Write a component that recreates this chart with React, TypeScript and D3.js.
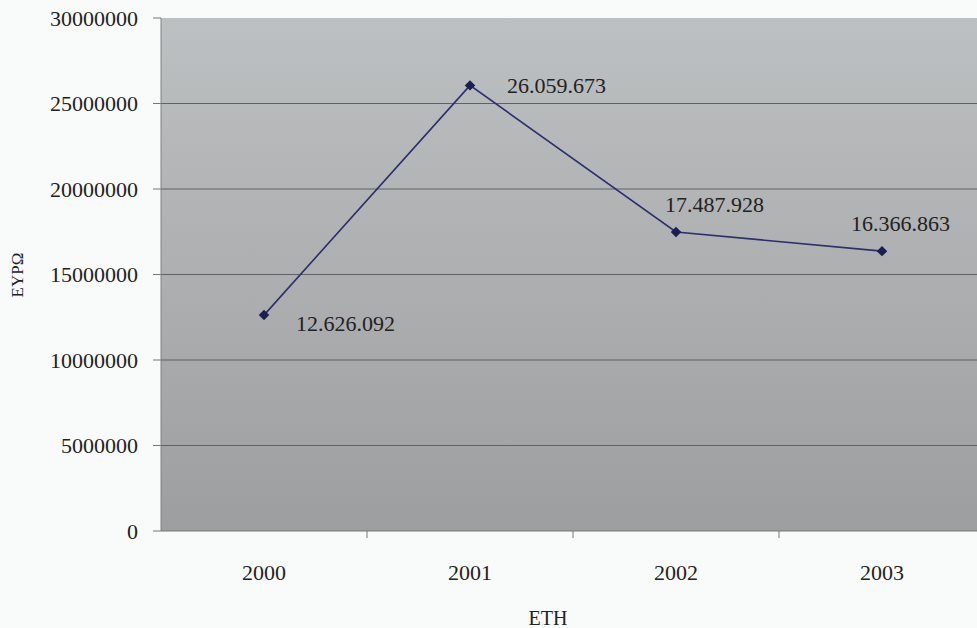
import React from "react";
import * as d3 from "d3";

const years = ["2000", "2001", "2002", "2003"];
const values = [12626092, 26059673, 17487928, 16366863];
const valueLabels = ["12.626.092", "26.059.673", "17.487.928", "16.366.863"];
const yTicks = [0, 5000000, 10000000, 15000000, 20000000, 25000000, 30000000];
const yTitle = "ΕΥΡΩ";
const xTitle = "ETH";

const W = 977;
const H = 628;
const left = 161;
const top = 18;
const bottom = 531;
const band = 206;

export default function App() {
  const x = d3.scaleBand<string>().domain(years).range([left, left + band * years.length]).padding(0);
  const y = d3.scaleLinear().domain([0, 30000000]).range([bottom, top]);
  const cx = (d: string) => (x(d) as number) + x.bandwidth() / 2;
  const line = d3.line<number>().x((_, i) => cx(years[i])).y((v) => y(v));
  const font = '"Liberation Serif", "Times New Roman", Times, "DejaVu Serif", serif';
  const labelOffsets = [
    { dx: 32, dy: 8, anchor: "start" },
    { dx: 37, dy: 0, anchor: "start" },
    { dx: -11, dy: -28, anchor: "start" },
    { dx: -31, dy: -28, anchor: "start" },
  ];
  const diamond = d3.symbol().type(d3.symbolSquare).size(55)() as string;
  return (
    <svg width={W} height={H} style={{ position: "absolute", left: 0, top: 0, display: "block", fontFamily: font }}>
      <defs>
        <linearGradient id="bg" x1="0" y1="0" x2="0" y2="1">
          <stop offset="0" stopColor="#bdc0c2" />
          <stop offset="1" stopColor="#9d9e9f" />
        </linearGradient>
      </defs>
      <rect x={0} y={0} width={W} height={H} fill="#f9fbfb" />
      <rect x={left} y={top} width={W - left} height={bottom - top} fill="url(#bg)" />
      {yTicks.map((t) => (
        <g key={t}>
          {t > 0 && t < 30000000 && (
            <line x1={left} x2={W} y1={y(t)} y2={y(t)} stroke="#5f6264" strokeWidth={1} />
          )}
          <line x1={left - 8} x2={left} y1={y(t)} y2={y(t)} stroke="#777" strokeWidth={1} />
          <text x={138} y={y(t)} dy="0.35em" textAnchor="end" fontSize={22} fill="#222" style={{ fontFamily: font }}>
            {t}
          </text>
        </g>
      ))}
      <line x1={left} x2={left} y1={top} y2={bottom} stroke="#808080" strokeWidth={1} />
      <line x1={left} x2={W} y1={bottom} y2={bottom} stroke="#777" strokeWidth={1} />
      {years.map((yr) => (
        <g key={yr}>
          <line x1={(x(yr) as number) + band} x2={(x(yr) as number) + band} y1={bottom} y2={bottom + 7} stroke="#777" />
          <text x={cx(yr)} y={580} textAnchor="middle" fontSize={22} fill="#222" style={{ fontFamily: font }}>
            {yr}
          </text>
        </g>
      ))}
      <path d={line(values) as string} fill="none" stroke="#2c2f6e" strokeWidth={1.6} />
      {values.map((v, i) => (
        <path key={i} d={diamond} transform={`translate(${cx(years[i])},${y(v)}) rotate(45)`} fill="#1c1d52" />
      ))}
      {values.map((v, i) => (
        <text
          key={"l" + i}
          x={cx(years[i]) + labelOffsets[i].dx}
          y={y(v) + labelOffsets[i].dy}
          dy="0.35em"
          textAnchor={labelOffsets[i].anchor}
          fontSize={22}
          fill="#222"
          style={{ fontFamily: font }}
        >
          {valueLabels[i]}
        </text>
      ))}
      <text transform={`translate(23,275) rotate(-90)`} textAnchor="middle" fontSize={17} fill="#222" style={{ fontFamily: font }}>
        {yTitle}
      </text>
      <text x={548} y={625} textAnchor="middle" fontSize={20} fill="#222" style={{ fontFamily: font }}>
        {xTitle}
      </text>
    </svg>
  );
}
